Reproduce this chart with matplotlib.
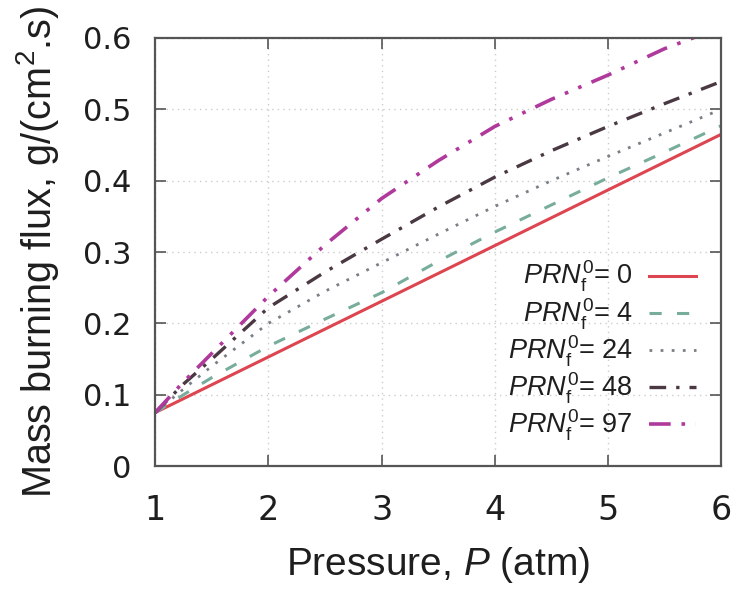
import matplotlib
matplotlib.use("Agg")
import matplotlib.pyplot as plt

pressure = [1.0, 1.25, 1.5, 2.0, 2.5, 3.0, 3.5, 4.0, 4.5, 5.0, 5.5, 6.0]
flux_0 = [0.075, 0.0945, 0.114, 0.153, 0.192, 0.231, 0.270, 0.309, 0.348, 0.387, 0.426, 0.465]
flux_4 = [0.075, 0.100, 0.124, 0.168, 0.206, 0.243, 0.287, 0.328, 0.366, 0.404, 0.440, 0.477]
flux_24 = [0.075, 0.108, 0.140, 0.200, 0.245, 0.285, 0.325, 0.364, 0.400, 0.434, 0.467, 0.500]
flux_48 = [0.075, 0.115, 0.150, 0.222, 0.272, 0.318, 0.363, 0.405, 0.442, 0.476, 0.508, 0.539]
flux_97 = [0.075, 0.118, 0.158, 0.238, 0.310, 0.375, 0.428, 0.476, 0.514, 0.548, 0.585, 0.615]
prn_values = ["0", "4", "24", "48", "97"]

x_ticks = [1, 2, 3, 4, 5, 6]
y_ticks = [0, 0.1, 0.2, 0.3, 0.4, 0.5, 0.6]
y_tick_labels = ["0", "0.1", "0.2", "0.3", "0.4", "0.5", "0.6"]

plt.rcParams['mathtext.fontset'] = 'custom'
plt.rcParams['mathtext.it'] = 'Liberation Sans:italic'
plt.rcParams['mathtext.rm'] = 'Liberation Sans'
plt.rcParams['mathtext.sf'] = 'Liberation Sans'

fig = plt.figure(figsize=(7.39, 5.93), dpi=100)
ax = fig.add_axes([0.210, 0.214, 0.766, 0.722])

styles = [
    dict(color='#dd4550', lw=2.2, ls='-'),
    dict(color='#78ad9c', lw=2.2, ls=(0, (4, 5))),
    dict(color='#7a7f86', lw=2.0, ls=(0, (1, 3))),
    dict(color='#4a3842', lw=2.4, ls=(0, (5, 3, 1, 3))),
    dict(color='#b03a9c', lw=2.6, ls=(0, (6, 3, 1, 3, 1, 3))),
]
series = [flux_0, flux_4, flux_24, flux_48, flux_97]
for vals, st, prn in zip(series, styles, prn_values):
    ax.plot(pressure, vals, label=r'$PRN_{\mathrm{f}}^{0}$= ' + prn, **st)

ax.set_xlim(1, 6)
ax.set_ylim(0, 0.6)
ax.set_xticks(x_ticks)
ax.set_yticks(y_ticks)
ax.set_yticklabels(y_tick_labels)
ax.grid(True, color='#cccccc', ls=(0, (1, 3)), lw=1.0)
for s in ax.spines.values():
    s.set_color('#555555')
    s.set_linewidth(1.6)
ax.tick_params(axis='both', direction='in', length=8, width=1.2, color='#555555',
               top=True, right=True)
ax.tick_params(axis='x', labelsize=24, pad=20, labelcolor='#1e1e1e')
ax.tick_params(axis='y', labelsize=22, pad=17, labelcolor='#1e1e1e')

ax.set_xlabel(r'Pressure, $P$ (atm)', fontsize=28, family='Liberation Sans', labelpad=13, color='#1e1e1e')
ax.set_ylabel(r'Mass burning flux, g/(cm$^{\mathrm{2}}$.s)', fontsize=28.5, family='Liberation Sans',
              labelpad=16, color='#1e1e1e')

leg = ax.legend(loc='lower right', bbox_to_anchor=(0.975, 0.028), frameon=False, markerfirst=False,
                prop={'family': 'Liberation Sans', 'size': 19.5}, handlelength=1.75,
                handletextpad=0.6, labelspacing=0.07, borderaxespad=0)
for t in leg.get_texts():
    t.set_color('#1e1e1e')

fig.savefig('out.png', dpi=100)
